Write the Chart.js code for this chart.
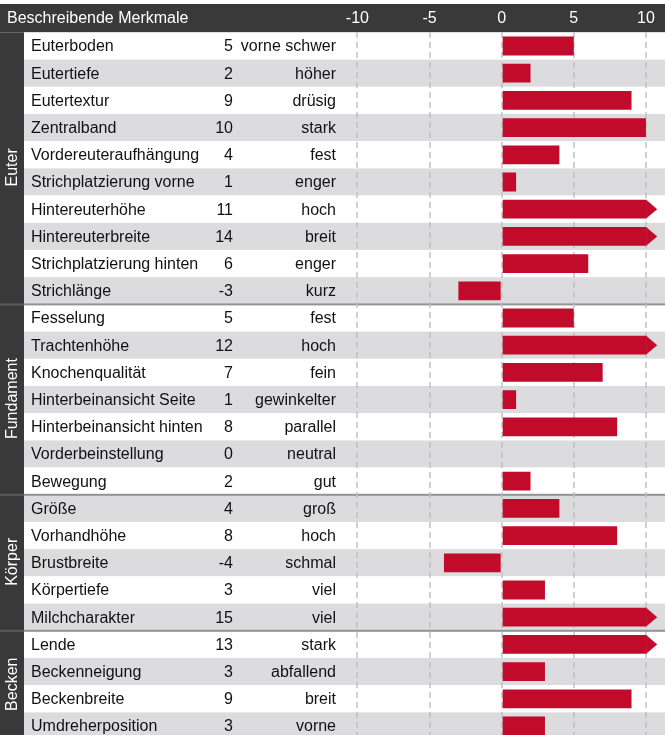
<!DOCTYPE html>
<html>
<head>
<meta charset="utf-8">
<script src="https://cdn.jsdelivr.net/npm/chart.js@4"></script>
<style>
html,body{margin:0;padding:0;background:#fff;overflow:hidden;}
#wrap{position:relative;width:665px;height:740px;}
</style>
</head>
<body>
<div id="wrap"><canvas id="c"></canvas></div>
<script>
const headerTitle = "Beschreibende Merkmale";
const traitNames = ["Euterboden","Eutertiefe","Eutertextur","Zentralband","Vordereuteraufhängung","Strichplatzierung vorne","Hintereuterhöhe","Hintereuterbreite","Strichplatzierung hinten","Strichlänge","Fesselung","Trachtenhöhe","Knochenqualität","Hinterbeinansicht Seite","Hinterbeinansicht hinten","Vorderbeinstellung","Bewegung","Größe","Vorhandhöhe","Brustbreite","Körpertiefe","Milchcharakter","Lende","Beckenneigung","Beckenbreite","Umdreherposition"];
const traitValues = [5,2,9,10,4,1,11,14,6,-3,5,12,7,1,8,0,2,4,8,-4,3,15,13,3,9,3];
const traitDescriptors = ["vorne schwer","höher","drüsig","stark","fest","enger","hoch","breit","enger","kurz","fest","hoch","fein","gewinkelter","parallel","neutral","gut","groß","hoch","schmal","viel","viel","stark","abfallend","breit","vorne"];
const groupNames = ["Euter","Fundament","Körper","Becken"];
const groupSizes = [10,7,5,4];
const tickValues = [-10,-5,0,5,10];

const FONT = "'Liberation Sans', Arial, sans-serif";
const DARK = "#393939";
const ROWGRAY = "#dcdcde";
const BAR = "#c20b2b";
const CAP = 10.05;

const decor = {
  id: 'decor',
  beforeDraw(chart) {
    const ctx = chart.ctx, y = chart.scales.y, W = chart.width, ca = chart.chartArea;
    ctx.save();
    ctx.fillStyle = '#fff';
    ctx.fillRect(0, 0, W, chart.height);
    ctx.fillStyle = DARK;
    ctx.fillRect(0, 4, W, ca.top - 4);
    const rowH = Math.abs(y.getPixelForValue(1) - y.getPixelForValue(0));
    traitNames.forEach((n, i) => {
      const cy = y.getPixelForValue(i);
      ctx.fillStyle = i % 2 ? ROWGRAY : '#ffffff';
      ctx.fillRect(24, cy - rowH / 2, W - 24, rowH);
    });
    ctx.fillStyle = DARK;
    ctx.fillRect(0, ca.top, 24, chart.height - ca.top);
    ctx.fillStyle = '#fff';
    ctx.font = "16px " + FONT;
    ctx.textBaseline = 'middle';
    ctx.textAlign = 'left';
    ctx.fillText(headerTitle, 7, 18.5);
    let start = 0;
    groupNames.forEach((g, k) => {
      const y0 = y.getPixelForValue(start) - rowH / 2;
      const y1 = y.getPixelForValue(start + groupSizes[k] - 1) + rowH / 2;
      if (k > 0) {
        ctx.fillStyle = '#939393';
        ctx.fillRect(24, y0 - 1, W - 24, 2);
        ctx.fillStyle = '#5a5a5a';
        ctx.fillRect(0, y0 - 1, 24, 2);
      }
      ctx.save();
      ctx.translate(12.5, (y0 + Math.min(y1, chart.height)) / 2 - 1);
      ctx.rotate(-Math.PI / 2);
      ctx.fillStyle = '#fff';
      ctx.textAlign = 'center';
      ctx.textBaseline = 'middle';
      ctx.fillText(g, 0, 0);
      ctx.restore();
      start += groupSizes[k];
    });
    ctx.fillStyle = '#111';
    traitNames.forEach((n, i) => {
      const cy = y.getPixelForValue(i) + 1;
      ctx.textAlign = 'left';
      ctx.fillText(n, 31, cy);
      ctx.textAlign = 'right';
      ctx.fillText(String(traitValues[i]), 233, cy);
      ctx.fillText(traitDescriptors[i], 336, cy);
    });
    ctx.restore();
  },
  afterDatasetsDraw(chart) {
    const ctx = chart.ctx;
    const meta = chart.getDatasetMeta(0);
    ctx.save();
    ctx.fillStyle = BAR;
    meta.data.forEach((el, i) => {
      if (traitValues[i] > 10) {
        const h = el.height;
        ctx.beginPath();
        ctx.moveTo(el.x - 0.5, el.y - h / 2);
        ctx.lineTo(el.x + 10.5, el.y);
        ctx.lineTo(el.x - 0.5, el.y + h / 2);
        ctx.closePath();
        ctx.fill();
      }
    });
    ctx.restore();
  }
};

new Chart(document.getElementById('c'), {
  type: 'bar',
  data: {
    labels: traitNames,
    datasets: [{
      data: traitValues.map(v => Math.min(v, CAP)),
      backgroundColor: BAR,
      borderWidth: 0,
      barPercentage: 0.69,
      categoryPercentage: 1
    }]
  },
  options: {
    indexAxis: 'y',
    responsive: true,
    maintainAspectRatio: false,
    animation: false,
    layout: { padding: { left: 344.4, right: 0, top: 4, bottom: 0.4 } },
    plugins: { legend: { display: false }, tooltip: { enabled: false } },
    scales: {
      x: {
        position: 'top',
        min: -10.9,
        max: 11.32,
        z: 1,
        afterBuildTicks(scale) { scale.ticks = tickValues.map(v => ({ value: v })); },
        afterFit(scale) { scale.height = 28.4; },
        border: { display: false, dash: [6, 4] },
        grid: { drawTicks: false, color: 'rgba(190,190,190,0.7)', lineWidth: 2 },
        ticks: { color: '#ffffff', font: { family: FONT, size: 16 }, padding: 4, maxRotation: 0, autoSkip: false,
          callback: (v) => String(v) }
      },
      y: {
        display: false,
        grid: { display: false }
      }
    }
  },
  plugins: [decor]
});
</script>
</body>
</html>
